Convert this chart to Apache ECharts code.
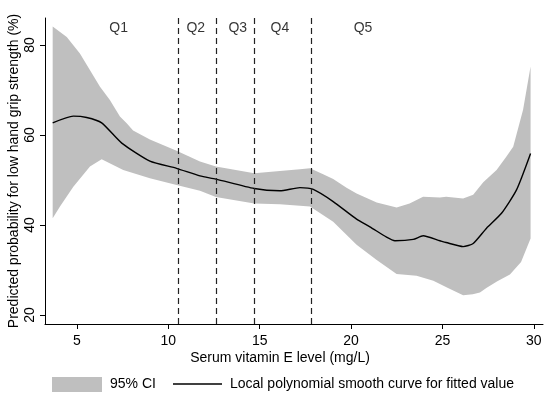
<!DOCTYPE html>
<html>
<head>
<meta charset="utf-8">
<script src="https://cdn.jsdelivr.net/npm/echarts@6/dist/echarts.min.js"></script>
<style>
html,body{margin:0;padding:0;background:#fff;}
#chart{width:550px;height:397px;}
</style>
</head>
<body>
<div id="chart"></div>
<script>
// Fitted curve (serum vitamin E, predicted probability %)
var curveX = [3.67, 4.8, 5.53, 6.35, 7.45, 8.99, 10.45, 11.73, 12.6, 14.7, 16.1, 17.2, 17.93, 19.02, 20.3, 21.03, 21.94, 22.4, 23.4, 23.94, 24.86, 25.2, 26.13, 26.68, 27.41, 28.23, 29.05, 29.82];
var curveY = [62.7, 64.2, 63.9, 62.7, 58.2, 54.2, 52.6, 50.9, 50.2, 48.1, 47.6, 48.3, 47.9, 45.2, 41.3, 39.6, 37.3, 36.5, 36.8, 37.6, 36.5, 36.1, 35.2, 35.9, 39.3, 42.6, 47.8, 55.9];

// 95% CI upper bound
var upperX = [3.67, 4.44, 5.16, 6.26, 6.8, 7.35, 7.72, 8.07, 8.99, 10.45, 11.73, 12.6, 14.7, 16.1, 17.2, 17.75, 18.47, 19.02, 19.75, 20.3, 21.4, 22.49, 23.2, 23.94, 24.86, 25.2, 26.13, 26.68, 27.23, 27.96, 28.5, 28.87, 29.41, 29.82];
var upperY = [84.1, 81.8, 78.1, 70.7, 67.8, 64.1, 62.6, 61.0, 59.0, 56.5, 54.1, 53.0, 51.5, 52.0, 52.4, 52.6, 51.3, 50.2, 48.3, 47.0, 45.0, 43.9, 44.8, 46.3, 46.1, 46.3, 45.9, 46.7, 49.5, 52.2, 55.2, 57.4, 65.6, 75.2];

// 95% CI lower bound
var lowerX = [3.67, 4.07, 4.8, 5.71, 6.35, 7.53, 8.99, 10.45, 11.73, 12.6, 14.7, 16.1, 17.2, 17.75, 19.02, 20.3, 21.4, 22.49, 23.58, 24.5, 25.3, 26.13, 26.66, 27.05, 27.4, 28.0, 28.69, 29.3, 29.82];
var lowerY = [41.5, 44.1, 48.5, 53.0, 54.6, 52.2, 50.4, 48.9, 47.6, 46.2, 44.8, 44.6, 44.3, 44.1, 40.7, 35.6, 32.2, 29.1, 28.7, 27.6, 26.0, 24.4, 24.6, 25.0, 26.0, 27.5, 29.0, 31.8, 37.0];

// Quintile cut points and labels
var cutoffs = [10.52, 12.6, 14.68, 17.8];
var quintileLabels = ['Q1', 'Q2', 'Q3', 'Q4', 'Q5'];
var quintileLabelX = [7.28, 11.5, 13.8, 16.1, 20.65];
var quintileLabelY = 83.8;

// Axis ticks
var xTicks = [5, 10, 15, 20, 25, 30];
var yTicks = [20, 40, 60, 80];

var ciName = '95% CI';
var fitName = 'Local polynomial smooth curve for fitted value';
var FONT = 'Liberation Sans, Arial, sans-serif';

var chart = echarts.init(document.getElementById('chart'), null, {renderer: 'canvas'});

var curveData = curveX.map(function (x, i) { return [x, curveY[i]]; });
var qData = quintileLabelX.map(function (x, i) { return [x, quintileLabelY, quintileLabels[i]]; });

var option = {
  backgroundColor: '#ffffff',
  animation: false,
  grid: {left: 45, right: 7, top: 18, bottom: 73, containLabel: false, outerBoundsMode: 'none'},
  xAxis: {
    type: 'value', min: 3.25, max: 30.5,
    name: 'Serum vitamin E level (mg/L)', nameLocation: 'middle', nameGap: 27,
    nameMoveOverlap: false,
    nameTextStyle: {fontFamily: FONT, fontSize: 14, color: '#000', padding: [0, 28, 0, 0]},
    axisLine: {show: true, onZero: false, lineStyle: {color: '#000', width: 1}},
    axisTick: {show: true, length: 5, customValues: xTicks, lineStyle: {color: '#000'}},
    axisLabel: {customValues: xTicks, margin: 10, fontFamily: FONT, fontSize: 14, color: '#000'},
    splitLine: {show: false}
  },
  yAxis: {
    type: 'value', min: 18, max: 86,
    name: 'Predicted probability for low hand grip strength (%)', nameLocation: 'middle', nameGap: 24,
    nameRotate: 90, nameMoveOverlap: false,
    nameTextStyle: {fontFamily: FONT, fontSize: 14, color: '#000'},
    axisLine: {show: true, onZero: false, lineStyle: {color: '#000', width: 1}},
    axisTick: {show: true, length: 5, customValues: yTicks, lineStyle: {color: '#000'}},
    axisLabel: {customValues: yTicks, rotate: 90, margin: 8, fontFamily: FONT, fontSize: 14, color: '#000'},
    splitLine: {show: false}
  },
  legend: [
    {
      data: [{name: ciName, icon: 'rect'}],
      left: 52, top: 377, padding: 0, itemWidth: 50, itemHeight: 15, selectedMode: false,
      textStyle: {fontFamily: FONT, fontSize: 14, color: '#000', padding: [0, 0, 0, 3]}
    },
    {
      data: [{name: fitName, icon: 'rect', itemStyle: {color: '#000'}}],
      left: 173, top: 377, padding: 0, itemWidth: 49, itemHeight: 1.4, selectedMode: false,
      textStyle: {fontFamily: FONT, fontSize: 14, color: '#000', padding: [0, 0, 0, 3]}
    }
  ],
  series: [
    {
      name: ciName,
      type: 'custom',
      itemStyle: {color: '#bfbfbf'},
      data: [[10, 50]],
      renderItem: function (params, api) {
        var pts = [];
        for (var i = 0; i < upperX.length; i++) pts.push(api.coord([upperX[i], upperY[i]]));
        for (var j = lowerX.length - 1; j >= 0; j--) pts.push(api.coord([lowerX[j], lowerY[j]]));
        return {type: 'polygon', shape: {points: pts}, style: {fill: '#bfbfbf'}};
      },
      z: 1
    },
    {
      name: fitName,
      type: 'line',
      data: curveData,
      smooth: 0.2,
      symbol: 'none',
      lineStyle: {color: '#000', width: 1.4},
      itemStyle: {color: '#000'},
      z: 3,
      markLine: {
        silent: true,
        symbol: ['none', 'none'],
        label: {show: false},
        lineStyle: {color: '#222', width: 1.2, type: [6, 4]},
        data: cutoffs.map(function (v) { return {xAxis: v}; })
      }
    },
    {
      name: 'quintiles',
      type: 'scatter',
      data: qData,
      symbolSize: 0,
      label: {
        show: true, position: 'inside',
        formatter: function (p) { return p.data[2]; },
        fontFamily: FONT, fontSize: 14, color: '#000'
      },
      z: 4
    }
  ]
};
chart.setOption(option);
</script>
</body>
</html>
